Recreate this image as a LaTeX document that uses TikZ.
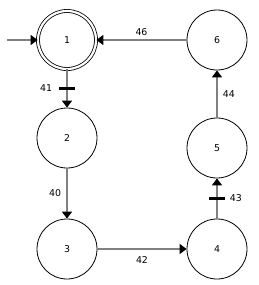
\documentclass[tikz,border=0pt]{standalone}
\usepackage{fontspec}
\setmainfont{DejaVu Sans}
\usetikzlibrary{arrows.meta}
\begin{document}
\begin{tikzpicture}[x=1bp,y=-1bp,
  state/.style={circle,draw=black,line width=0.8bp,minimum size=60bp,inner sep=0pt,font=\fontsize{9.4bp}{11bp}\selectfont},
  accept/.style={state,double=white,double distance=2.2bp},
  edge/.style={draw={rgb,255:red,128;green,128;blue,128},line width=1.7bp,-{Triangle[length=7bp,width=10bp,color=black]}},
  lbl/.style={font=\fontsize{9.4bp}{11bp}\selectfont,inner sep=0pt},
  tick/.style={fill=black,inner sep=0pt,minimum width=16bp,minimum height=2.6bp}]
\useasboundingbox (0,0) rectangle (259,285);
\node[accept,minimum size=58bp] (n1) at (67,40) {1};
\node[state] (n2) at (67,138) {2};
\node[state] (n3) at (67,249) {3};
\node[state] (n4) at (217,249) {4};
\node[state] (n5) at (217,148) {5};
\node[state] (n6) at (217,40) {6};
\coordinate (start) at (7,40);
\draw[edge] (start) -- (n1);
\draw[edge] (n6) -- node[lbl,above=4bp] (l46) {46} (n1);
\draw[edge] (n1) -- node[tick] (t41) {} node[lbl,left=14bp] (l41) {41} (n2);
\draw[edge] (n2) -- node[lbl,left=5bp] (l40) {40} (n3);
\draw[edge] (n3) -- node[lbl,below=7bp] (l42) {42} (n4);
\draw[edge] (n4) -- node[tick] (t43) {} node[lbl,right=12bp] (l43) {43} (n5);
\draw[edge] (n5) -- node[lbl,right=5bp] (l44) {44} (n6);
\end{tikzpicture}
\end{document}
